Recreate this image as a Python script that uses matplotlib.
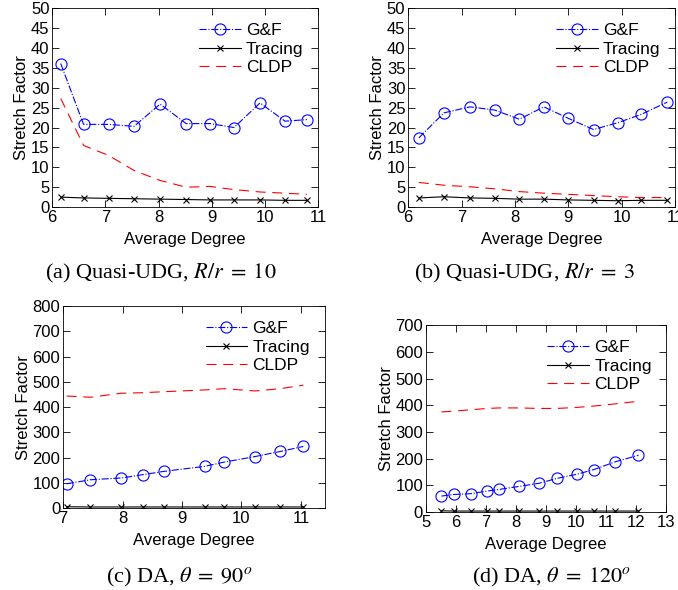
import matplotlib
matplotlib.use('Agg')
import matplotlib.pyplot as plt

plt.rcParams['font.family'] = ['Liberation Sans', 'DejaVu Sans']
plt.rcParams['mathtext.fontset'] = 'stix'

# (a) Quasi-UDG, R/r = 10
a_x = [6.16, 6.59, 7.06, 7.54, 8.03, 8.52, 8.97, 9.42, 9.91, 10.38, 10.79]
a_gf = [36.1, 20.8, 20.8, 20.3, 25.9, 21.0, 21.0, 20.0, 26.2, 21.6, 22.0]
a_tr = [2.5, 2.3, 2.2, 2.1, 2.0, 1.9, 1.8, 1.8, 1.8, 1.7, 1.7]
a_cl = [27.3, 15.5, 13.0, 9.2, 6.7, 5.0, 5.2, 4.4, 3.8, 3.5, 3.2]

# (b) Quasi-UDG, R/r = 3
b_x = [6.2, 6.67, 7.16, 7.62, 8.08, 8.54, 9.0, 9.47, 9.92, 10.36, 10.85]
b_gf = [17.4, 23.7, 25.2, 24.4, 22.1, 25.2, 22.3, 19.5, 21.2, 23.3, 26.4]
b_tr = [2.3, 2.6, 2.3, 2.2, 2.0, 2.0, 1.8, 1.7, 1.6, 1.7, 1.7]
b_cl = [6.2, 5.5, 5.1, 4.6, 3.9, 3.5, 3.2, 2.9, 2.6, 2.4, 2.4]

# (c) DA, theta = 90
c_x = [7.06, 7.46, 7.98, 8.34, 8.69, 9.38, 9.71, 10.23, 10.65, 11.04]
c_gf = [96, 112, 119, 132, 145, 165, 182, 204, 224, 244]
c_tr = [5, 4, 4, 4, 4, 4, 4, 4, 4, 4]
c_cl = [444, 439, 455, 457, 461, 468, 473, 464, 473, 487]

# (d) DA, theta = 120
d_x = [5.52, 5.93, 6.49, 7.04, 7.44, 8.09, 8.77, 9.35, 10.03, 10.58, 11.29, 12.07]
d_gf = [60, 66, 69, 79, 85, 96, 108, 126, 142, 159, 188, 213]
d_tr = [5, 4, 4, 4, 4, 4, 4, 4, 4, 4, 4, 4]
d_cl = [375, 378, 383, 388, 390, 390, 388, 388, 392, 397, 405, 415]

panels = [
    (a_x, a_gf, a_tr, a_cl, (6, 11), range(6, 12), (0, 50), range(0, 51, 5),
     [0.077, 0.649, 0.392, 0.337], '(a) Quasi-UDG, $R/r\\;=\\;10$', (0.237, 0.537)),
    (b_x, b_gf, b_tr, b_cl, (6, 11), range(6, 12), (0, 50), range(0, 51, 5),
     [0.602, 0.649, 0.394, 0.337], '(b) Quasi-UDG, $R/r\\;=\\;3$', (0.773, 0.537)),
    (c_x, c_gf, c_tr, c_cl, (7, 11.4), range(7, 12), (0, 800), range(0, 801, 100),
     [0.093, 0.139, 0.386, 0.342], '(c) DA, $\\theta\\;=\\;90^o$', (0.264, 0.022)),
    (d_x, d_gf, d_tr, d_cl, (5, 13), range(5, 14), (0, 700), range(0, 701, 100),
     [0.628, 0.132, 0.355, 0.317], '(d) DA, $\\theta\\;=\\;120^o$', (0.814, 0.022)),
]

fig = plt.figure(figsize=(6.78, 5.9), dpi=100)

for x, gf, tr, cl, xl, xt, yl, yt, pos, cap, cpos in panels:
    ax = fig.add_axes(pos)
    ax.plot(x, gf, color='blue', linestyle='-.', linewidth=0.8, marker='o',
            markersize=8, markerfacecolor='none', markeredgewidth=0.8, label='G&F')
    ax.plot(x, tr, color='black', linestyle='-', linewidth=0.8, marker='x',
            markersize=5, markeredgewidth=0.8, label='Tracing')
    ax.plot(x, cl, color='red', linestyle=(0, (9, 6)), linewidth=0.8, label='CLDP')
    ax.set_xlim(*xl)
    ax.set_ylim(*yl)
    ax.set_xticks(list(xt))
    ax.set_yticks(list(yt))
    ax.tick_params(direction='in', top=True, right=True, labelsize=12, length=5,
                   width=0.6, pad=2)
    for s in ax.spines.values():
        s.set_linewidth(0.6)
    ax.set_xlabel('Average Degree', fontsize=12, labelpad=5)
    ax.set_ylabel('Stretch Factor', fontsize=12, labelpad=1)
    ax.legend(loc='upper right', frameon=False, fontsize=12.5, handlelength=2.4,
              handletextpad=0.3, labelspacing=0.2, borderaxespad=0.45)
    fig.text(cpos[0], cpos[1], cap, ha='center', va='center', fontsize=16,
             family=['Liberation Serif', 'DejaVu Serif'])

fig.savefig('out.png', dpi=100)
